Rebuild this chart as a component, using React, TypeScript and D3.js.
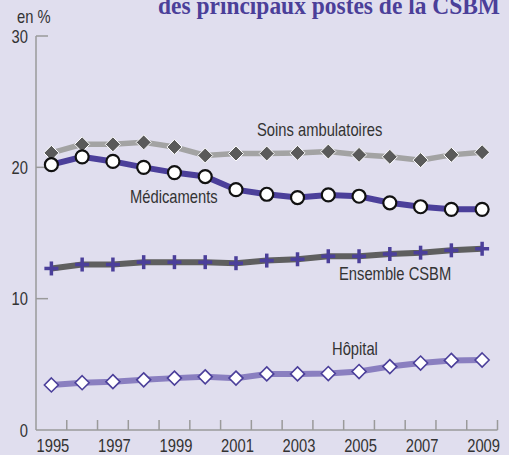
import React from "react";
import * as d3 from "d3";

const years = [1995, 1996, 1997, 1998, 1999, 2000, 2001, 2002, 2003, 2004, 2005, 2006, 2007, 2008, 2009];
const soinsAmbulatoires = [21.1, 21.75, 21.75, 21.9, 21.55, 20.9, 21.05, 21.05, 21.1, 21.2, 20.95, 20.8, 20.55, 20.95, 21.15];
const medicaments = [20.2, 20.8, 20.45, 20.0, 19.6, 19.3, 18.3, 17.95, 17.7, 17.9, 17.8, 17.3, 17.0, 16.8, 16.8];
const ensembleCSBM = [12.3, 12.6, 12.6, 12.78, 12.78, 12.78, 12.7, 12.9, 13.0, 13.23, 13.23, 13.4, 13.5, 13.68, 13.8];
const hopital = [3.43, 3.6, 3.68, 3.82, 3.95, 4.05, 3.95, 4.27, 4.27, 4.3, 4.45, 4.83, 5.1, 5.3, 5.33];
const yTicks = [0, 10, 20, 30];
const xLabelYears = [1995, 1997, 1999, 2001, 2003, 2005, 2007, 2009];

const W = 509;
const H = 455;
const FONT = "'Liberation Sans', Arial, sans-serif";
const NARROW = 0.82;

type NTProps = {
  x: number;
  y: number;
  anchor?: "start" | "middle" | "end";
  size?: number;
  fill?: string;
  children: React.ReactNode;
};

function NText({ x, y, anchor = "start", size = 18, fill = "#333333", children }: NTProps) {
  return (
    <text
      transform={`translate(${x},${y}) scale(${NARROW},1)`}
      textAnchor={anchor}
      fontSize={size}
      fill={fill}
      fontFamily={FONT}
    >
      {children}
    </text>
  );
}

export default function App() {
  const x = d3.scaleBand<number>().domain(years).range([36, 497.5]).paddingInner(0).paddingOuter(0);
  const y = d3.scaleLinear().domain([0, 30]).range([430, 36]);
  const bw = x.bandwidth();
  const cx = (yr: number) => (x(yr) as number) + bw / 2;

  const line = d3
    .line<number>()
    .x((_, i) => cx(years[i]))
    .y((v) => y(v));

  const diamond = (px: number, py: number, r: number) =>
    `M${px},${py - r}L${px + r},${py}L${px},${py + r}L${px - r},${py}Z`;

  const axisColor = "#9a9a9a";
  const textColor = "#333333";

  return (
    <svg
      width={W}
      height={H}
      style={{ position: "absolute", left: 0, top: 0, display: "block" }}
      fontFamily={FONT}
    >
      <rect x={0} y={0} width={W} height={H} fill="#e0deee" />

      <text
        x={500}
        y={14}
        textAnchor="end"
        fontFamily="'Liberation Serif', 'Times New Roman', serif"
        fontWeight="bold"
        fontSize={26}
        fill="#4b3f99"
        textLength={342}
        lengthAdjust="spacingAndGlyphs"
      >
        des principaux postes de la CSBM
      </text>

      {/* axes */}
      <line x1={36} x2={36} y1={y(30)} y2={y(0)} stroke={axisColor} strokeWidth={1.5} />
      <line x1={36} x2={497.5} y1={y(0)} y2={y(0)} stroke={axisColor} strokeWidth={1.5} />
      {yTicks.filter((t) => t > 0).map((t) => (
        <line key={"yt" + t} x1={36} x2={48} y1={y(t)} y2={y(t)} stroke={axisColor} strokeWidth={1.5} />
      ))}
      {years.map((yr) => (
        <line
          key={"xt" + yr}
          x1={(x(yr) as number) + bw}
          x2={(x(yr) as number) + bw}
          y1={y(0)}
          y2={y(0) - 10}
          stroke={axisColor}
          strokeWidth={1.5}
        />
      ))}
      {yTicks.map((t) => (
        <NText key={"yl" + t} x={28} y={y(t) + 6.5} anchor="end" fill={textColor}>
          {t}
        </NText>
      ))}
      <NText x={17} y={22.5} fill={textColor}>
        en %
      </NText>
      {xLabelYears.map((yr) => (
        <NText key={"xl" + yr} x={cx(yr) + 1.5} y={452} anchor="middle" fill={textColor}>
          {yr}
        </NText>
      ))}

      {/* Ensemble CSBM */}
      <path d={line(ensembleCSBM) || ""} fill="none" stroke="#5f5f5f" strokeWidth={6} />
      {ensembleCSBM.map((v, i) => {
        const px = cx(years[i]);
        const py = y(v);
        return (
          <g key={"e" + i} stroke="#4b3f9a" strokeWidth={3.5}>
            <line x1={px - 7} x2={px + 7} y1={py} y2={py} />
            <line x1={px} x2={px} y1={py - 7} y2={py + 7} />
          </g>
        );
      })}

      {/* Hôpital */}
      <path d={line(hopital) || ""} fill="none" stroke="#8a7fc0" strokeWidth={6} />
      {hopital.map((v, i) => (
        <path key={"h" + i} d={diamond(cx(years[i]), y(v), 7)} fill="#ffffff" stroke="#4b3f9a" strokeWidth={1.6} />
      ))}

      {/* Soins ambulatoires */}
      <path d={line(soinsAmbulatoires) || ""} fill="none" stroke="#a3a3a3" strokeWidth={5.5} />
      {soinsAmbulatoires.map((v, i) => (
        <path key={"s" + i} d={diamond(cx(years[i]), y(v), 7.5)} fill="#5a5a5a" stroke="#ffffff" strokeWidth={1} />
      ))}

      {/* Médicaments */}
      <path d={line(medicaments) || ""} fill="none" stroke="#4b3f9a" strokeWidth={6} />
      {medicaments.map((v, i) => (
        <circle key={"m" + i} cx={cx(years[i])} cy={y(v)} r={6.5} fill="#ffffff" stroke="#111111" strokeWidth={2.2} />
      ))}

      {/* series labels */}
      <NText x={257} y={136} fill={textColor}>Soins ambulatoires</NText>
      <NText x={130} y={202.5} fill={textColor}>Médicaments</NText>
      <NText x={339} y={280} fill={textColor}>Ensemble CSBM</NText>
      <NText x={332} y={355} fill={textColor}>Hôpital</NText>
    </svg>
  );
}
